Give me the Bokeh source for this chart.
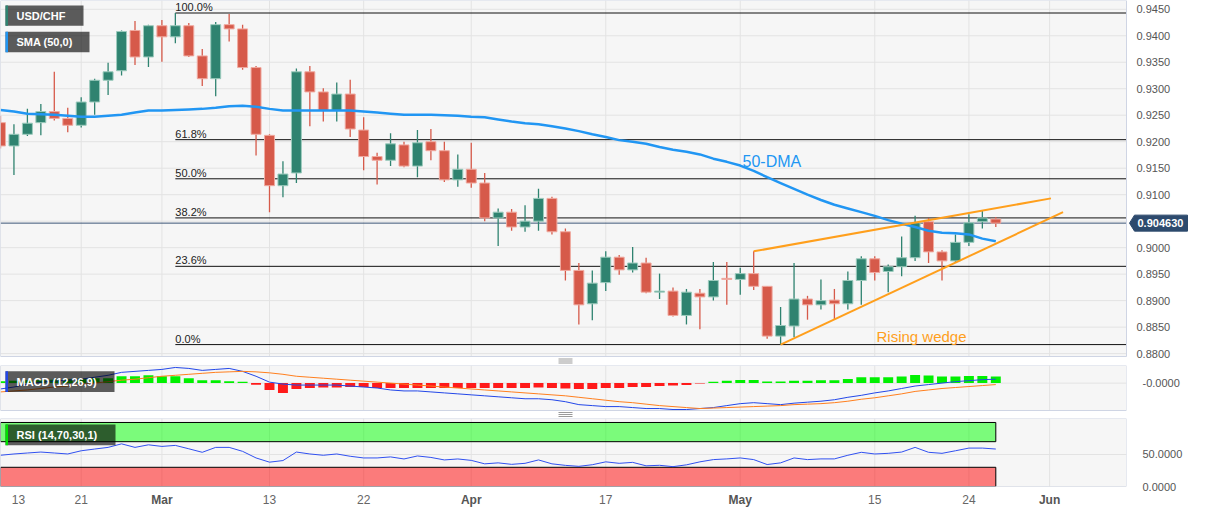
import numpy as np
from bokeh.plotting import figure
from bokeh.layouts import column
from bokeh.models import Range1d, FixedTicker, PrintfTickFormatter, Label, BoxAnnotation
from bokeh.core.properties import value
from bokeh.embed import file_html
from bokeh.resources import INLINE

# ---------------- data (daily USD/CHF, 13 Feb - 26 May) ----------------
OPEN = [0.9236, 0.9192, 0.9214, 0.9236, 0.9257, 0.9244, 0.9231, 0.9275, 0.9316, 0.9334,
        0.9410, 0.9360, 0.9419, 0.9398, 0.9419, 0.9362, 0.9319, 0.9421, 0.9413, 0.9340,
        0.9212, 0.9117, 0.9141, 0.9332, 0.9294, 0.9259, 0.9290, 0.9222, 0.9172, 0.9165,
        0.9194, 0.9154, 0.9200, 0.9183, 0.9128, 0.9148, 0.9122, 0.9056, 0.9067, 0.9039,
        0.9050, 0.9093, 0.9030, 0.8957, 0.8894, 0.8934, 0.8982, 0.8958, 0.8971, 0.8916,
        0.8918, 0.8872, 0.8914, 0.8907, 0.8942, 0.8940, 0.8951, 0.8927, 0.8833, 0.8852,
        0.8903, 0.8892, 0.8901, 0.8894, 0.8938, 0.8979, 0.8955, 0.8964, 0.8981, 0.9049,
        0.8992, 0.8975, 0.9010, 0.9049, 0.9054]
HIGH = [0.9249, 0.9233, 0.9262, 0.9271, 0.9332, 0.9264, 0.9284, 0.9319, 0.9349, 0.9410,
        0.9428, 0.9421, 0.9430, 0.9443, 0.9424, 0.9375, 0.9426, 0.9441, 0.9421, 0.9343,
        0.9214, 0.9163, 0.9338, 0.9343, 0.9301, 0.9312, 0.9317, 0.9246, 0.9179, 0.9216,
        0.9200, 0.9222, 0.9224, 0.9200, 0.9176, 0.9198, 0.9141, 0.9074, 0.9073, 0.9080,
        0.9111, 0.9096, 0.9036, 0.8971, 0.8957, 0.8993, 0.8986, 0.9001, 0.8981, 0.8951,
        0.8925, 0.8922, 0.8922, 0.8973, 0.8973, 0.8962, 0.8993, 0.8927, 0.8888, 0.8971,
        0.8909, 0.8940, 0.8922, 0.8955, 0.8984, 0.8984, 0.8968, 0.9021, 0.9060, 0.9056,
        0.8995, 0.9025, 0.9063, 0.9071, 0.9058]
LOW = [0.9187, 0.9137, 0.9211, 0.9212, 0.9240, 0.9218, 0.9227, 0.9251, 0.9288, 0.9325,
       0.9345, 0.9341, 0.9351, 0.9386, 0.9360, 0.9305, 0.9286, 0.9389, 0.9336, 0.9174,
       0.9067, 0.9095, 0.9122, 0.9229, 0.9238, 0.9238, 0.9209, 0.9146, 0.9119, 0.9154,
       0.9152, 0.9133, 0.9165, 0.9124, 0.9115, 0.9113, 0.9050, 0.9003, 0.9032, 0.9030,
       0.9032, 0.9025, 0.8938, 0.8855, 0.8863, 0.8918, 0.8949, 0.8953, 0.8914, 0.8903,
       0.8870, 0.8855, 0.8846, 0.8900, 0.8892, 0.8911, 0.8920, 0.8828, 0.8817, 0.8831,
       0.8864, 0.8883, 0.8864, 0.8883, 0.8892, 0.8938, 0.8916, 0.8946, 0.8975, 0.8971,
       0.8938, 0.8973, 0.9003, 0.9036, 0.9039]
CLOSE = [0.9192, 0.9214, 0.9235, 0.9257, 0.9244, 0.9231, 0.9275, 0.9316, 0.9332, 0.9408,
         0.9360, 0.9419, 0.9398, 0.9419, 0.9362, 0.9319, 0.9421, 0.9413, 0.9340, 0.9214,
         0.9117, 0.9139, 0.9332, 0.9294, 0.9259, 0.9290, 0.9224, 0.9172, 0.9165, 0.9196,
         0.9154, 0.9198, 0.9183, 0.9128, 0.9148, 0.9122, 0.9056, 0.9067, 0.9039, 0.9050,
         0.9093, 0.9030, 0.8957, 0.8892, 0.8933, 0.8982, 0.8958, 0.8971, 0.8916, 0.8918,
         0.8872, 0.8916, 0.8907, 0.8938, 0.8940, 0.8951, 0.8927, 0.8833, 0.8853, 0.8903,
         0.8892, 0.8900, 0.8894, 0.8938, 0.8979, 0.8953, 0.8964, 0.8981, 0.9047, 0.8992,
         0.8975, 0.9010, 0.9047, 0.9056, 0.904630]
SMA50 = [0.9260, 0.9257, 0.9253, 0.9252, 0.9251, 0.9249, 0.9247, 0.9247, 0.9249, 0.9251,
         0.9255, 0.9259, 0.9259, 0.9260, 0.9261, 0.9262, 0.9264, 0.9267, 0.9268, 0.9266,
         0.9262, 0.9259, 0.9259, 0.9259, 0.9259, 0.9259, 0.9259, 0.9257, 0.9255, 0.9253,
         0.9251, 0.9251, 0.9251, 0.9250, 0.9249, 0.9247, 0.9246, 0.9242, 0.9238, 0.9235,
         0.9233, 0.9229, 0.9225, 0.9220, 0.9214, 0.9209, 0.9203, 0.9200, 0.9196, 0.9190,
         0.9185, 0.9181, 0.9176, 0.9168, 0.9162, 0.9155, 0.9145, 0.9133, 0.9122, 0.9111,
         0.9100, 0.9090, 0.9081, 0.9074, 0.9067, 0.9060, 0.9052, 0.9045, 0.9039, 0.9032,
         0.9028, 0.9027, 0.9025, 0.9017, 0.9012]
MACD = [-0.0006, -0.0004, -0.0001, 0.0001, 0.0002, 0.0003, 0.0004, 0.0006, 0.0008, 0.0011,
        0.0012, 0.0013, 0.0014, 0.0016, 0.0015, 0.0013, 0.0014, 0.0015, 0.0012, 0.0007,
        0.0001, -0.0001, -0.0002, -0.0002, -0.0002, -0.0002, -0.0003, -0.0004, -0.0005, -0.0007,
        -0.0008, -0.0008, -0.0009, -0.0010, -0.0011, -0.0012, -0.0013, -0.0014, -0.0015, -0.0016,
        -0.0016, -0.0017, -0.0019, -0.0022, -0.0023, -0.0024, -0.0024, -0.0025, -0.0026, -0.0026,
        -0.0027, -0.0027, -0.0026, -0.0025, -0.0023, -0.0021, -0.0020, -0.0021, -0.0022, -0.00205,
        -0.00195, -0.00185, -0.0017, -0.00145, -0.00125, -0.0010, -0.0008, -0.00055, -0.0003, -0.00015,
        0.0, 0.00015, 0.00025, 0.00035, 0.0004]
SIGNAL = [-0.0009, -0.0008, -0.0007, -0.00055, -0.0004, -0.0003, -0.00015, 0.0, 0.00015, 0.0003,
          0.0004, 0.00055, 0.0007, 0.0008, 0.0009, 0.0010, 0.0011, 0.00115, 0.0012, 0.00115,
          0.00105, 0.0009, 0.0007, 0.0006, 0.0005, 0.0004, 0.0003, 0.0002, 0.0001, 0.0,
          -0.0001, -0.0002, -0.0003, -0.0004, -0.0005, -0.0006, -0.0007, -0.0008, -0.0009, -0.0010,
          -0.0011, -0.0012, -0.0013, -0.00145, -0.0016, -0.00175, -0.0019, -0.0020, -0.00215, -0.0023,
          -0.0024, -0.0025, -0.0026, -0.00255, -0.0025, -0.00245, -0.0024, -0.00235, -0.0023, -0.0022,
          -0.00215, -0.0021, -0.0020, -0.00185, -0.00165, -0.0015, -0.0013, -0.0011, -0.00085, -0.0007,
          -0.00055, -0.00045, -0.00035, -0.00025, -0.00015]
HIST = [0.0002, 0.00025, 0.0003, 0.0003, 0.00035, 0.0004, 0.00045, 0.0005, 0.0005, 0.0007,
        0.0007, 0.0008, 0.0007, 0.0007, 0.0005, 0.0003, 0.0003, 0.0002, 0.00015, -0.00017,
        -0.0007, -0.0010, -0.0006, -0.0005, -0.00045, -0.00045, -0.0004, -0.0004, -0.0005, -0.0005,
        -0.0005, -0.0005, -0.0005, -0.0005, -0.0005, -0.0005, -0.0005, -0.0005, -0.0005, -0.0005,
        -0.00045, -0.0005, -0.00055, -0.0006, -0.0006, -0.0005, -0.0005, -0.0004, -0.0004, -0.0003,
        -0.00025, -0.0002, -0.00005, 0.00015, 0.00023, 0.00033, 0.00033, 0.00017, 0.00017, 0.00023,
        0.00023, 0.0003, 0.0003, 0.00043, 0.0006, 0.0006, 0.0006, 0.00067, 0.00083, 0.00077,
        0.00067, 0.00067, 0.00073, 0.00073, 0.00067]
RSI = [48.8, 50.8, 52.3, 53.8, 52.3, 50.8, 55.8, 58.5, 61.1, 66.6,
       61.1, 65.1, 62.6, 64.2, 58.9, 53.4, 61.1, 61.1, 54.9, 44.6,
       38.0, 40.5, 53.8, 50.8, 48.8, 50.8, 47.2, 44.6, 44.6, 46.2,
       43.0, 47.7, 45.4, 41.5, 43.0, 40.8, 35.4, 36.9, 34.6, 36.2,
       41.5, 35.4, 33.0, 31.5, 34.0, 38.5, 36.2, 37.7, 32.3, 33.1,
       31.0, 33.8, 38.5, 42.0, 43.1, 44.6, 42.0, 34.3, 36.9, 44.6,
       42.0, 43.1, 43.1, 48.8, 53.4, 50.8, 51.8, 53.8, 61.1, 53.4,
       51.8, 55.8, 60.0, 60.0, 58.5]

TICK_IDX = [0, 6, 12, 20, 27, 35, 45, 55, 65, 72, 78]
TICK_LABELS = ["13", "21", "Mar", "13", "22", "Apr", "17", "May", "15", "24", "Jun"]
IS_MONTH = [False, False, True, False, False, True, False, True, False, False, True]
PRICE_TICKS = [0.8800, 0.8850, 0.8900, 0.8950, 0.9000, 0.9050, 0.9100, 0.9150,
               0.9200, 0.9250, 0.9300, 0.9350, 0.9400, 0.9450]
FIB_RATIOS = [0.0, 0.236, 0.382, 0.5, 0.618, 1.0]
FIB_LABELS = ["0.0%", "23.6%", "38.2%", "50.0%", "61.8%", "100.0%"]
WEDGE_UPPER_X = [56, 78.1]
WEDGE_UPPER_Y = [0.8993, 0.9093]
WEDGE_LOWER_X = [58, 79.0]
WEDGE_LOWER_Y = [0.8817, 0.9067]
RSI_BANDS = [(70, 100), (0, 30)]
LAST_LABEL = "0.904630"

# ---------------- layout helpers ----------------
FONT = "Liberation Sans"
PX = 13.45              # pixels per trading day
FW = 1126               # panel width (px)
TOTAL_W = 1190
XEND = FW / PX
P_TOP, P_BOT = 0.94666, 0.87945
MAIN_H = 356            # main panel height (px)
K = (P_TOP - P_BOT) / MAIN_H
M_TOP, M_BOT = 0.0018, -0.0028
MACD_H = 45
KM = (M_TOP - M_BOT) / MACD_H
R_TOP = 106.2
GREEN, RED = "#2f8370", "#d65a4a"
GREEN_EDGE, RED_EDGE = "#9ccbbd", "#f0aaa0"
GRID = "#e3e3e3"
FRAME = "#cfd5e4"
BG = "#f6f6f6"
F = value(FONT)


def gx(px):
    return px / PX


def gy_main(py):                 # reference-pixel y -> price
    return P_TOP - py * (P_TOP - P_BOT) / 365.0


def gy_macd(py):
    return (393 - py) * 1e-4


def gy_rsi(py):
    return (499 - py) / 0.65


def base_fig(frame_w, frame_h, xr, yr, yaxis=False, top=0, bottom=0):
    p = figure(frame_width=frame_w, frame_height=frame_h, x_range=xr, y_range=yr,
               x_axis_location=None, y_axis_location="right" if yaxis else None,
               min_border_left=0, min_border_right=TOTAL_W - frame_w,
               min_border_top=top, min_border_bottom=bottom,
               background_fill_color="white", border_fill_color="white",
               outline_line_color=None, output_backend="svg", toolbar_location=None)
    p.grid.visible = False
    if yaxis:
        ax = p.yaxis[0]
        ax.axis_line_color = None
        ax.major_tick_line_color = None
        ax.minor_tick_line_color = None
        ax.major_label_text_font = FONT
        ax.major_label_text_font_size = "11px"
        ax.major_label_text_color = "#555555"
        ax.major_label_standoff = 10
    return p


def panel_bg(p, ybot, ytop, hticks):
    p.quad(left=[0], right=[XEND], bottom=[ybot], top=[ytop], fill_color=BG, line_color=None)
    p.segment(x0=[0] * len(hticks), x1=[XEND] * len(hticks), y0=hticks, y1=hticks,
              line_color=GRID, line_width=1)
    p.segment(x0=TICK_IDX, x1=TICK_IDX, y0=[ybot] * len(TICK_IDX), y1=[ytop] * len(TICK_IDX),
              line_color=GRID, line_width=1)


def panel_frame(p, ybot, ytop):
    p.quad(left=[0], right=[XEND], bottom=[ybot], top=[ytop], fill_color=None,
           line_color=FRAME, line_width=1)


def handle(p, ycen, dy):
    p.segment(x0=[gx(558)] * 3, x1=[gx(572)] * 3, y0=[ycen - dy, ycen, ycen + dy],
              y1=[ycen - dy, ycen, ycen + dy], line_color="#9a9a9a", line_width=1)


def legend_box(p, x0, x1, y0, y1, ycen, strip, text):
    p.add_layout(BoxAnnotation(left=x0, right=x1, top=y0, bottom=y1,
                               fill_color="black", fill_alpha=0.63, line_color=None))
    p.add_layout(BoxAnnotation(left=x0, right=x0 + gx(2.5), top=y0, bottom=y1,
                               fill_color=strip, fill_alpha=1.0, line_color=None))
    p.add_layout(Label(x=gx(16), y=ycen, text=text, text_font=FONT, text_font_size="11px",
                       text_font_style="bold", text_color="white", text_baseline="middle"))


n = len(OPEN)
idx = np.arange(n)
o, h, l, c = map(np.array, (OPEN, HIGH, LOW, CLOSE))
up = c >= o

# ---------------- main price panel (own right-hand scale) ----------------
p1 = base_fig(TOTAL_W, MAIN_H + 9, Range1d(0, TOTAL_W / PX), Range1d(P_BOT - 9 * K, P_TOP))
panel_bg(p1, P_BOT, P_TOP, PRICE_TICKS)

hi_i = int(np.argmax(h))
fib_hi, fib_lo = h.max(), l.min()
fib_levels = [fib_lo + r * (fib_hi - fib_lo) for r in FIB_RATIOS]
p1.segment(x0=[hi_i] * len(fib_levels), y0=fib_levels, x1=[XEND] * len(fib_levels),
           y1=fib_levels, line_color="#111111", line_width=1)
p1.text(x=[hi_i] * len(fib_levels), y=fib_levels, text=FIB_LABELS, text_font=F,
        text_font_size="11px", text_color="#222222", text_baseline="bottom", text_align="left")

p1.segment(x0=[0], x1=[XEND], y0=[CLOSE[-1]], y1=[CLOSE[-1]], line_color="#3b5576", line_width=1)

colors = [GREEN if u else RED for u in up]
edges = [GREEN_EDGE if u else RED_EDGE for u in up]
p1.segment(x0=idx, y0=l, x1=idx, y1=h, line_color=colors, line_width=1.3)
p1.vbar(x=idx, width=0.74, top=np.maximum(o, c), bottom=np.minimum(o, c),
        fill_color=colors, line_color=edges, line_width=1)

p1.line(idx, SMA50, line_color="#2196f3", line_width=2.5)
p1.line(WEDGE_UPPER_X, WEDGE_UPPER_Y, line_color="#ff9f1c", line_width=2)
p1.line(WEDGE_LOWER_X, WEDGE_LOWER_Y, line_color="#ff9f1c", line_width=2)

p1.text(x=[gx(742)], y=[gy_main(165)], text=["50-DMA"], text_font=F, text_font_size="16px",
        text_color="#2196f3", text_baseline="alphabetic")
p1.text(x=[gx(876)], y=[gy_main(345)], text=["Rising wedge"], text_font=F,
        text_font_size="15px", text_color="#ff9f1c", text_baseline="alphabetic")
panel_frame(p1, P_BOT, P_TOP)

# right-hand price scale
lab_ticks = [t for t in PRICE_TICKS if abs(t - 0.905) > 1e-9]
p1.text(x=[XEND + gx(10)] * len(lab_ticks), y=lab_ticks, text=["%.4f" % t for t in lab_ticks],
        text_font=F, text_font_size="11px", text_color="#555555", text_baseline="middle",
        text_align="left")
last = CLOSE[-1]
dy = 8 * K
p1.patch(x=[XEND + gx(3), XEND + gx(8), XEND + gx(61), XEND + gx(61), XEND + gx(8)],
         y=[last, last + dy, last + dy, last - dy, last - dy], fill_color="#2d4a6d",
         line_color="#2d4a6d")
p1.text(x=[XEND + gx(11)], y=[last], text=[LAST_LABEL], text_font=F, text_font_size="11px",
        text_font_style="bold", text_color="white", text_baseline="middle", text_align="left")

legend_box(p1, gx(5), gx(83), gy_main(5), gy_main(26), gy_main(15.5), GREEN, "USD/CHF")
legend_box(p1, gx(5), gx(89), gy_main(32), gy_main(53), gy_main(42.5), "#2196f3", "SMA (50,0)")
handle(p1, P_BOT - 4.5 * K, 2 * K)

# ---------------- MACD panel ----------------
XR = Range1d(0, XEND)
p2 = base_fig(FW, MACD_H + 8, XR, Range1d(M_BOT - 8 * KM, M_TOP), yaxis=True)
p2.yaxis.ticker = FixedTicker(ticks=[0])
p2.yaxis.major_label_overrides = {0: "-0.0000"}
panel_bg(p2, M_BOT, M_TOP, [0])
hist = np.array(HIST)
hcol = ["#00f000" if v >= 0 else "#ff1a1a" for v in hist]
p2.vbar(x=idx, width=0.74, top=np.maximum(hist, 0), bottom=np.minimum(hist, 0),
        fill_color=hcol, line_color=None)
p2.line(idx, MACD, line_color="#2347e8", line_width=1)
p2.line(idx, SIGNAL, line_color="#ff7f1e", line_width=1)
panel_frame(p2, M_BOT, M_TOP)
legend_box(p2, gx(5), gx(114), gy_macd(381), gy_macd(402), gy_macd(391.5), "#2347e8",
           "MACD (12,26,9)")
handle(p2, M_BOT - 4 * KM, 2 * KM)

# ---------------- RSI panel ----------------
p3 = base_fig(FW, 68, XR, Range1d(0, R_TOP), yaxis=True, bottom=7)
p3.yaxis.ticker = FixedTicker(ticks=[0, 50])
p3.yaxis.formatter = PrintfTickFormatter(format="%.4f")
panel_bg(p3, 0, R_TOP, [0, 50])
p3.quad(left=[0, 0], right=[n - 1, n - 1], bottom=[b[0] for b in RSI_BANDS],
        top=[b[1] for b in RSI_BANDS], fill_color=["#00ff00", "#ff0000"], fill_alpha=0.5,
        line_color="black", line_width=1)
p3.line(idx, RSI, line_color="#3050f0", line_width=1)
panel_frame(p3, 0, R_TOP)
legend_box(p3, gx(5), gx(115), gy_rsi(436), gy_rsi(457), gy_rsi(446.5), "#00e000",
           "RSI (14,70,30,1)")

# ---------------- date labels ----------------
p4 = base_fig(FW, 17, XR, Range1d(0, 1))
day_x = [t for t, m in zip(TICK_IDX, IS_MONTH) if not m]
day_t = [t for t, m in zip(TICK_LABELS, IS_MONTH) if not m]
mon_x = [t for t, m in zip(TICK_IDX, IS_MONTH) if m]
mon_t = [t for t, m in zip(TICK_LABELS, IS_MONTH) if m]
day_off = [18 if x == 0 else 0 for x in day_x]
p4.text(x=day_x, y=[0.62] * len(day_x), text=day_t, x_offset=day_off, text_font=F,
        text_font_size="12px", text_color="#666666", text_align="center", text_baseline="middle")
p4.text(x=mon_x, y=[0.62] * len(mon_x), text=mon_t, text_font=F, text_font_size="12px",
        text_font_style="bold", text_color="#555555", text_align="center", text_baseline="middle")

layout = column(p1, p2, p3, p4, spacing=0)
open("out.html", "w").write(file_html(layout, INLINE))
